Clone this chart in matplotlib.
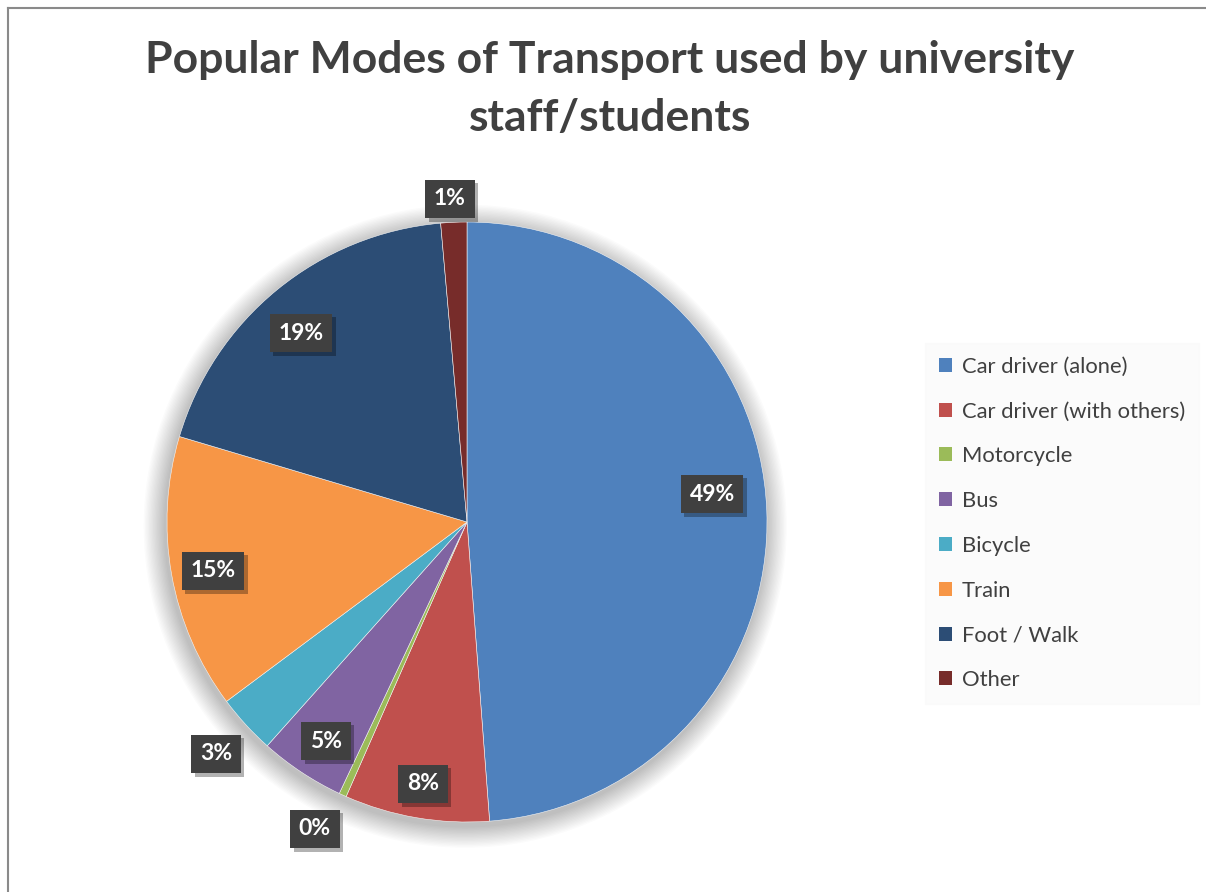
import matplotlib
matplotlib.use("Agg")
import matplotlib.pyplot as plt
from matplotlib.patches import Patch, Circle
from matplotlib.lines import Line2D
import matplotlib.patheffects as pe

plt.rcParams['font.family'] = ['Lato', 'DejaVu Sans']

# data (percent of respondents)
modes = ['Car driver (alone)', 'Car driver (with others)', 'Motorcycle', 'Bus',
         'Bicycle', 'Train', 'Foot / Walk', 'Other']
shares = [48.8, 7.8, 0.4, 4.6, 3.2, 14.8, 19.0, 1.4]
colors = ['#4F81BD', '#C0504D', '#9BBB59', '#8064A2',
          '#4BACC6', '#F79646', '#2C4D75', '#772C2A']

# where each data label sits (radius units, relative to the pie centre)
label_pos = [(0.817, 0.093), (-0.147, -0.873), (-0.507, -1.023), (-0.47, -0.73),
             (-0.837, -0.773), (-0.847, -0.163), (-0.553, 0.63), (-0.057, 1.077)]

W, H = 1206, 892
fig = plt.figure(figsize=(W / 100, H / 100), dpi=100)

# pie axes: centre (467, 522) px, radius 300 px
cx, cy, r = 467, 522, 300
half = 350
ax = fig.add_axes([(cx - half) / W, (H - cy - half) / H, 2 * half / W, 2 * half / H])

# soft glow/shadow around pie
for k in range(16):
    rr = 1.0 + 0.0045 * (k + 1)
    ax.add_patch(Circle((-0.006, -0.014), rr, fc='black', ec='none', alpha=0.015, zorder=0))

wedges, _ = ax.pie(shares, colors=colors, startangle=90, counterclock=False,
                   radius=1.0, center=(0, 0), frame=True,
                   wedgeprops=dict(linewidth=0.4, edgecolor='#f4f4f4'))
for w in wedges:
    w.set_zorder(2)
ax.set_xlim(-half / r, half / r)
ax.set_ylim(-half / r, half / r)
ax.set_aspect('equal')
ax.axis('off')

for val, (lx, ly) in zip(shares, label_pos):
    t = ax.text(lx, ly, '%.0f%%' % val, ha='center', va='center', fontsize=16.5,
                fontweight='bold', color='white', zorder=4,
                bbox=dict(boxstyle='square,pad=0.38', fc='#404040', ec='none'))
    t.get_bbox_patch().set_path_effects(
        [pe.SimplePatchShadow(offset=(2.5, -2.5), shadow_rgbFace='black', alpha=0.3),
         pe.Normal()])

# title
fig.text(610 / W, 1 - 60 / H, 'Popular Modes of Transport used by university',
         ha='center', va='center', fontsize=32, fontweight='bold', color='#404040')
fig.text(610 / W, 1 - 118 / H, 'staff/students',
         ha='center', va='center', fontsize=32, fontweight='bold', color='#404040')

# legend
handles = [Patch(facecolor=c, edgecolor='none') for c in colors]
leg = fig.legend(handles, modes, loc='upper left',
                 bbox_to_anchor=(925 / W, 1 - 343 / H), frameon=True,
                 fancybox=False, facecolor='#fafafa', edgecolor='#fafafa',
                 fontsize=15.8, handlelength=0.6, handleheight=0.6,
                 handletextpad=0.45, labelspacing=1.13, borderpad=0.62,
                 borderaxespad=0)
for t in leg.get_texts():
    t.set_color('#404040')

# outer chart border (top and left visible)
fig.add_artist(Line2D([8 / W, 1], [1 - 8 / H, 1 - 8 / H], color='#8a8a8a', lw=1.5))
fig.add_artist(Line2D([8 / W, 8 / W], [0, 1 - 8 / H], color='#8a8a8a', lw=1.5))

fig.savefig('out.png', dpi=100)
